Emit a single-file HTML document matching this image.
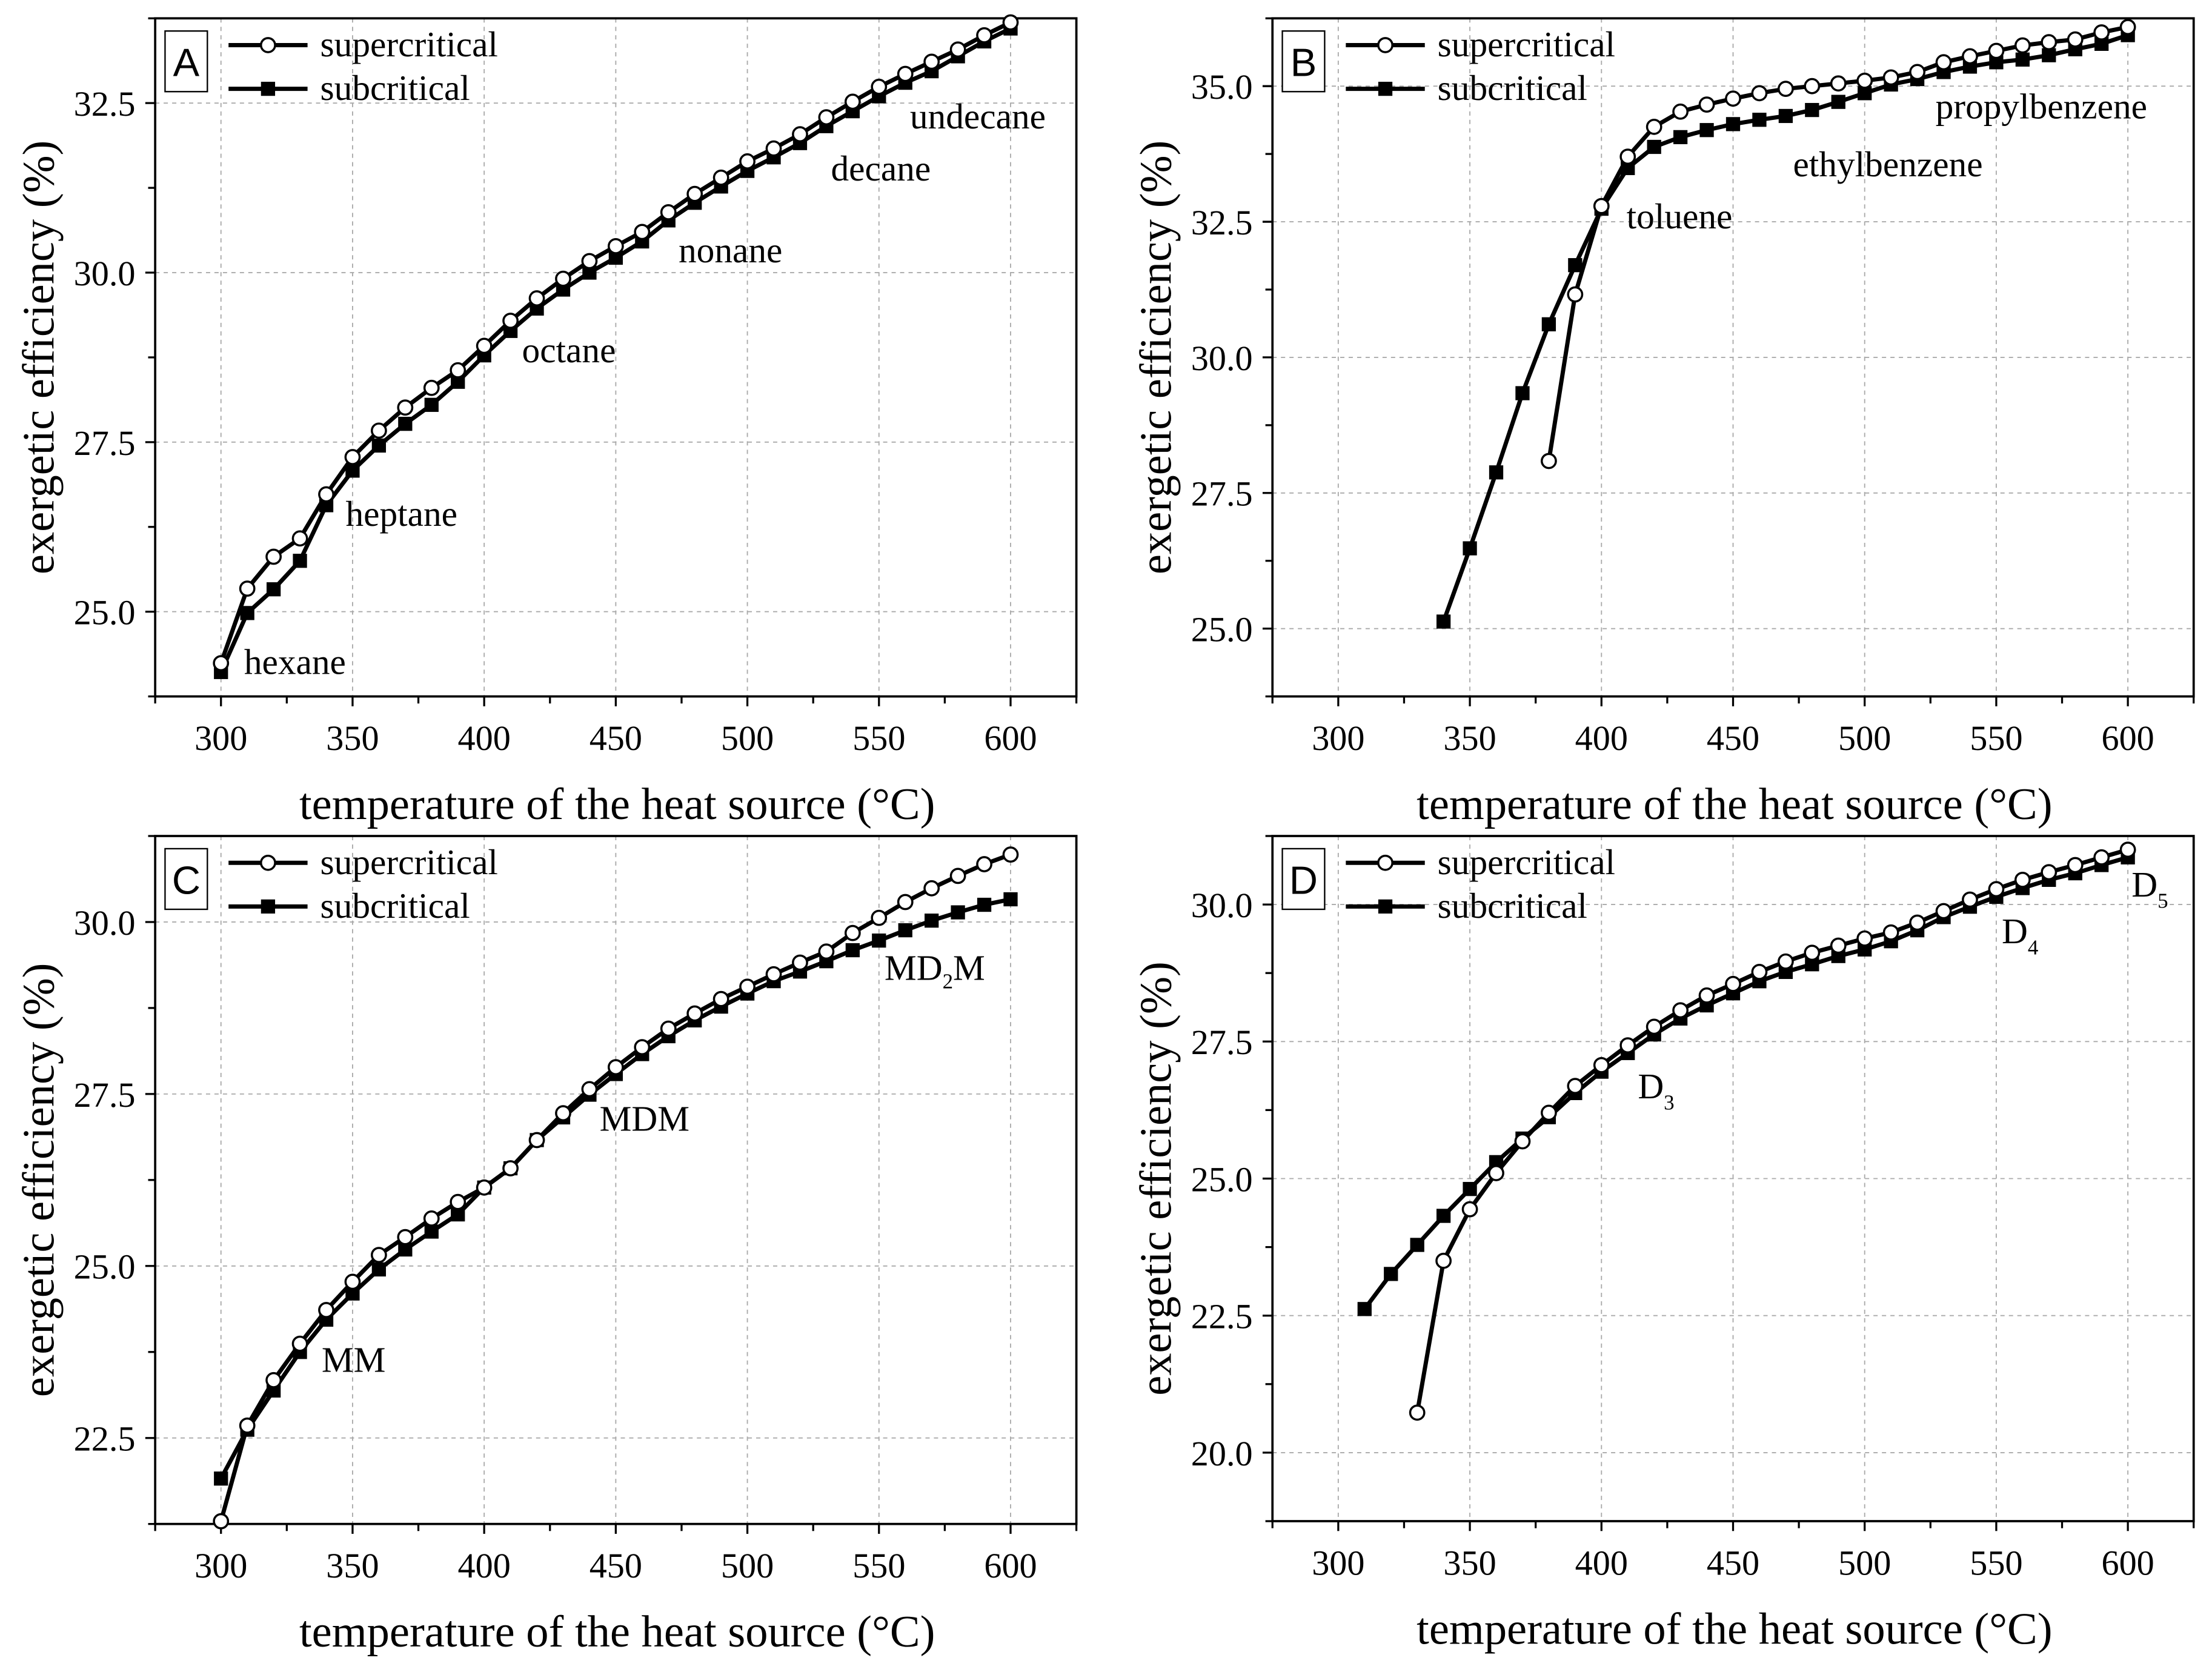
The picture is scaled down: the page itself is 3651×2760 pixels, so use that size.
<!DOCTYPE html>
<html><head><meta charset="utf-8"><style>
html,body{margin:0;padding:0;background:#fff;}
svg{display:block;}
text{font-family:"Liberation Serif",serif;fill:#000;}
</style></head>
<body>
<svg id="fig" xmlns="http://www.w3.org/2000/svg" width="3651" height="2760" viewBox="0 0 1568 1186" preserveAspectRatio="none"></svg>
<script>
const temps = [300,310,320,330,340,350,360,370,380,390,400,410,420,430,440,450,460,470,480,490,500,510,520,530,540,550,560,570,580,590,600];
const aSuper = [24.24,25.34,25.81,26.08,26.73,27.28,27.67,28.01,28.30,28.56,28.92,29.29,29.62,29.91,30.17,30.39,30.60,30.89,31.16,31.40,31.64,31.83,32.04,32.29,32.52,32.74,32.93,33.11,33.29,33.50,33.69];
const aSub = [24.11,24.98,25.33,25.75,26.57,27.08,27.45,27.77,28.05,28.39,28.78,29.14,29.47,29.75,30.00,30.22,30.46,30.77,31.03,31.27,31.50,31.70,31.91,32.16,32.38,32.60,32.80,32.97,33.19,33.41,33.60];
const bSuperT = [380,390,400,410,420,430,440,450,460,470,480,490,500,510,520,530,540,550,560,570,580,590,600];
const bSuper = [28.09,31.16,32.79,33.70,34.25,34.53,34.66,34.77,34.87,34.95,35.00,35.05,35.10,35.16,35.26,35.44,35.55,35.65,35.75,35.81,35.86,35.99,36.09];
const bSubT = [340,350,360,370,380,390,400,410,420,430,440,450,460,470,480,490,500,510,520,530,540,550,560,570,580,590,600];
const bSub = [25.13,26.48,27.88,29.34,30.61,31.70,32.74,33.49,33.88,34.06,34.19,34.30,34.38,34.45,34.56,34.71,34.87,35.03,35.13,35.26,35.36,35.44,35.49,35.57,35.68,35.78,35.94];
const cSuper = [21.29,22.68,23.34,23.87,24.36,24.77,25.16,25.42,25.69,25.93,26.14,26.42,26.83,27.22,27.57,27.89,28.18,28.45,28.67,28.88,29.06,29.24,29.41,29.57,29.84,30.06,30.29,30.49,30.67,30.84,30.98];
const cSub = [21.91,22.62,23.19,23.75,24.22,24.60,24.95,25.24,25.50,25.75,26.14,26.42,26.83,27.16,27.49,27.79,28.08,28.34,28.57,28.77,28.96,29.14,29.28,29.43,29.59,29.73,29.88,30.02,30.14,30.25,30.33];
const dSuperT = [330,340,350,360,370,380,390,400,410,420,430,440,450,460,470,480,490,500,510,520,530,540,550,560,570,580,590,600];
const dSuper = [20.73,23.50,24.44,25.10,25.68,26.20,26.69,27.07,27.43,27.77,28.07,28.34,28.55,28.77,28.96,29.12,29.25,29.38,29.49,29.67,29.88,30.09,30.28,30.45,30.59,30.72,30.86,31.00];
const dSubT = [310,320,330,340,350,360,370,380,390,400,410,420,430,440,450,460,470,480,490,500,510,520,530,540,550,560,570,580,590,600];
const dSub = [22.62,23.26,23.79,24.32,24.81,25.30,25.73,26.12,26.56,26.95,27.29,27.63,27.92,28.16,28.38,28.60,28.77,28.91,29.06,29.18,29.33,29.53,29.77,29.96,30.14,30.30,30.45,30.57,30.72,30.86];
const xTicks = [300,350,400,450,500,550,600];
const aYTicks = [25.0,27.5,30.0,32.5];
const bYTicks = [25.0,27.5,30.0,32.5,35.0];
const cYTicks = [22.5,25.0,27.5,30.0];
const dYTicks = [20.0,22.5,25.0,27.5,30.0];
const aLabels = [["hexane",173,478],["heptane",245,373],["octane",370,257],["nonane",481,186],["decane",589,128],["undecane",645,91]];
const bLabels = [["toluene",1153,162],["ethylbenzene",1271,125],["propylbenzene",1372,84]];
const cLabels = [["MM",228,973],["MDM",425,802]];
const dLabels = [["D","3",1161,779],["D","4",1419,669],["D","5",1511,636]];

const svg = document.getElementById('fig');
const NS = 'http://www.w3.org/2000/svg';
function mk(tag, attrs, parent){
  const e = document.createElementNS(NS, tag);
  for (const k in attrs) e.setAttribute(k, attrs[k]);
  (parent||svg).appendChild(e);
  return e;
}

function panel(cfg){
  const g = mk('g', {});
  
  
  const L=cfg.left,R=cfg.right,T=cfg.top,B=cfg.bottom;
  const xs = v => L + (v - 275) / (625 - 275) * (R - L);
  const ys = v => B - (v - cfg.ymin) / (cfg.ymax - cfg.ymin) * (B - T);
  xTicks.forEach(t => {
    const gl = mk('line', {x1:xs(t),x2:xs(t),y1:T,y2:B,stroke:'#aaa','stroke-width':0.8,'stroke-dasharray':'3,3'}, g);
    
    
  });
  cfg.yTicks.forEach(t => {
    const gl = mk('line', {x1:L,x2:R,y1:ys(t),y2:ys(t),stroke:'#aaa','stroke-width':0.8,'stroke-dasharray':'3,3'}, g);
    
    
  });
  const fr = mk('rect', {x:L,y:T,width:R-L,height:B-T,fill:'none',stroke:'#000','stroke-width':1.6}, g);
  
  
  for (let t=275; t<=625; t+=25){
    const major = (t % 50 === 0);
    mk('line', {x1:xs(t),x2:xs(t),y1:B,y2:B+(major?7:5),stroke:'#000','stroke-width':1.4}, g);
  }
  xTicks.forEach(t => {
    const tx = mk('text', {x:xs(t),y:B+38,'text-anchor':'middle','font-size':25}, g);
    tx.textContent = t;
    
    
  });
  for (let v = cfg.yTicks[0] - 2.5; v <= cfg.ymax + 0.001; v += 1.25){
    if (v < cfg.ymin - 0.001) continue;
    const major = cfg.yTicks.some(t => Math.abs(t - v) < 0.01);
    mk('line', {x1:L-(major?7:5),x2:L,y1:ys(v),y2:ys(v),stroke:'#000','stroke-width':1.4}, g);
  }
  cfg.yTicks.forEach(t => {
    const tx = mk('text', {x:L-14,y:ys(t)+9,'text-anchor':'end','font-size':25}, g);
    tx.textContent = t.toFixed(1);
    
    
  });
  const xt = mk('text', {x:(L+R)/2+1,y:B+87,'text-anchor':'middle','font-size':32}, g);
  xt.textContent = 'temperature of the heat source (\u00B0C)';
  
  
  const cy = (T+B)/2;
  const yt = mk('text', {x:0,y:0,'text-anchor':'middle','font-size':32,transform:`translate(${L-72},${cy}) rotate(-90)`}, g);
  yt.textContent = 'exergetic efficiency (%)';
  
  
  function series(tArr, vArr, kind){
    const pts = tArr.map((t,i) => xs(t).toFixed(2)+','+ys(vArr[i]).toFixed(2)).join(' ');
    const pl = mk('polyline', {points:pts,fill:'none',stroke:'#000','stroke-width':3}, g);
    
    
    tArr.forEach((t,i) => {
      let m;
      if (kind === 'supercritical'){
        m = mk('circle', {cx:xs(t),cy:ys(vArr[i]),r:5,fill:'#fff',stroke:'#000','stroke-width':1.5}, g);
      } else {
        m = mk('rect', {x:xs(t)-5,y:ys(vArr[i])-5,width:10,height:10,fill:'#000'}, g);
      }
      
      
    });
  }
  series(cfg.subT, cfg.sub, 'subcritical');
  series(cfg.supT, cfg.sup, 'supercritical');
  const lg = mk('g', {}, g);
  
  
  const ly1 = T + 19, ly2 = T + 50;
  mk('line', {x1:L+52,x2:L+108,y1:ly1,y2:ly1,stroke:'#000','stroke-width':3}, lg);
  mk('circle', {cx:L+80,cy:ly1,r:5,fill:'#fff',stroke:'#000','stroke-width':1.5}, lg);
  const l1 = mk('text', {x:L+117,y:ly1+8,'font-size':25.5}, lg);
  l1.textContent = 'supercritical';
  
  
  mk('line', {x1:L+52,x2:L+108,y1:ly2,y2:ly2,stroke:'#000','stroke-width':3}, lg);
  mk('rect', {x:L+75,y:ly2-5,width:10,height:10,fill:'#000'}, lg);
  const l2 = mk('text', {x:L+117,y:ly2+8,'font-size':25.5}, lg);
  l2.textContent = 'subcritical';
  
  
  const pb = mk('rect', {x:L+7,y:T+9,width:30,height:43,fill:'#fff',stroke:'#000','stroke-width':1}, g);
  
  
  const pl = mk('text', {x:L+22,y:T+41,'text-anchor':'middle','font-size':28,style:'font-family:"Liberation Sans",sans-serif'}, g);
  pl.textContent = cfg.letter;
  
  
  return g;
}

panel({letter:'A',left:110,right:763,top:13,bottom:494,ymin:23.75,ymax:33.75,yTicks:aYTicks,supT:temps,sup:aSuper,subT:temps,sub:aSub});
panel({letter:'B',left:902,right:1555,top:13,bottom:494,ymin:23.75,ymax:36.25,yTicks:bYTicks,supT:bSuperT,sup:bSuper,subT:bSubT,sub:bSub});
panel({letter:'C',left:110,right:763,top:593,bottom:1081,ymin:21.25,ymax:31.25,yTicks:cYTicks,supT:temps,sup:cSuper,subT:temps,sub:cSub});
panel({letter:'D',left:902,right:1555,top:593,bottom:1079,ymin:18.75,ymax:31.25,yTicks:dYTicks,supT:dSuperT,sup:dSuper,subT:dSubT,sub:dSub});

function addLabels(arr){
  arr.forEach(a => {
    const t = mk('text', {x:a[1],y:a[2],'font-size':25.5});
    t.textContent = a[0];
    
    
  });
}
addLabels(aLabels); addLabels(bLabels); addLabels(cLabels);
const md2m = mk('text', {x:627,y:695,'font-size':25.5});
md2m.innerHTML = 'MD<tspan font-size="15" dy="6">2</tspan><tspan dy="-6">M</tspan>';


dLabels.forEach(a => {
  const t = mk('text', {x:a[2],y:a[3],'font-size':25.5});
  t.innerHTML = a[0] + '<tspan font-size="15" dy="8">' + a[1] + '</tspan>';
  
  
});
</script>
</body></html>
